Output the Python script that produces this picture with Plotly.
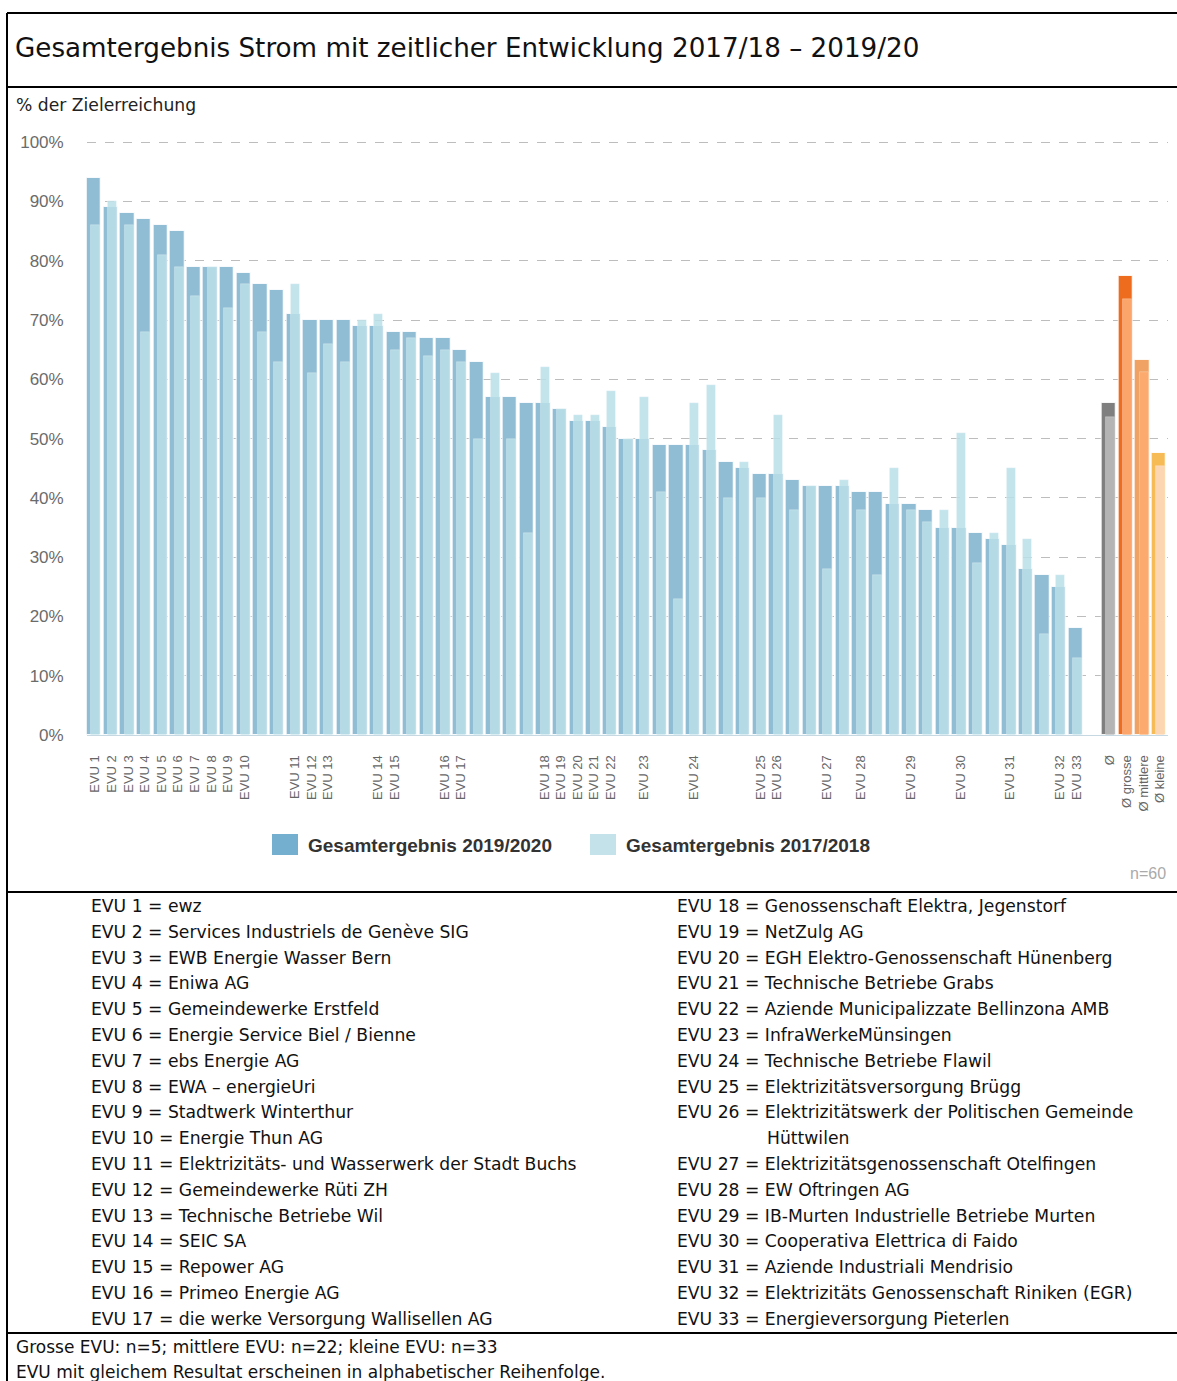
import plotly.graph_objects as go

W, H = 1177, 1381

# ---------------- data ----------------
res_2020 = [94, 89, 88, 87, 86, 85, 79, 79, 79, 78,
            76, 75, 71, 70, 70, 70, 69, 69, 68, 68,
            67, 67, 65, 63, 57, 57, 56, 56, 55, 53,
            53, 52, 50, 50, 49, 49, 49, 48, 46, 45,
            44, 44, 43, 42, 42, 42, 41, 41, 39, 39,
            38, 35, 35, 34, 33, 32, 28, 27, 25, 18]
res_2018 = [86, 90, 86, 68, 81, 79, 74, 79, 72, 76,
            68, 63, 76, 61, 66, 63, 70, 71, 65, 67,
            64, 65, 63, 50, 61, 50, 34, 62, 55, 54,
            54, 58, 50, 57, 41, 23, 56, 59, 40, 46,
            40, 54, 38, 42, 28, 43, 38, 27, 45, 38,
            36, 38, 51, 29, 34, 45, 33, 17, 27, 13]
# bar number (1-based) that carries each EVU label
labeled_bars = [1, 2, 3, 4, 5, 6, 7, 8, 9, 10, 13, 14, 15, 18, 19, 22, 23,
                28, 29, 30, 31, 32, 34, 37, 41, 42, 45, 47, 50, 53, 56, 59, 60]
evu_labels = ["EVU %d" % (i + 1) for i in range(33)]

avg_labels = ["Ø", "Ø grosse", "Ø mittlere", "Ø kleine"]
avg_2020 = [56, 77.4, 63.2, 47.6]
avg_2018 = [53.7, 73.5, 61.3, 45.4]

y_ticks = [0, 10, 20, 30, 40, 50, 60, 70, 80, 90, 100]
y_ticktext = ["%d%%" % v for v in y_ticks]

legend_names = ["Gesamtergebnis 2019/2020", "Gesamtergebnis 2017/2018"]

list_left = [
    "EVU 1 = ewz",
    "EVU 2 = Services Industriels de Genève SIG",
    "EVU 3 = EWB Energie Wasser Bern",
    "EVU 4 = Eniwa AG",
    "EVU 5 = Gemeindewerke Erstfeld",
    "EVU 6 = Energie Service Biel / Bienne",
    "EVU 7 = ebs Energie AG",
    "EVU 8 = EWA – energieUri",
    "EVU 9 = Stadtwerk Winterthur",
    "EVU 10 = Energie Thun AG",
    "EVU 11 = Elektrizitäts- und Wasserwerk der Stadt Buchs",
    "EVU 12 = Gemeindewerke Rüti ZH",
    "EVU 13 = Technische Betriebe Wil",
    "EVU 14 = SEIC SA",
    "EVU 15 = Repower AG",
    "EVU 16 = Primeo Energie AG",
    "EVU 17 = die werke Versorgung Wallisellen AG",
]
list_right = [
    "EVU 18 = Genossenschaft Elektra, Jegenstorf",
    "EVU 19 = NetZulg AG",
    "EVU 20 = EGH Elektro-Genossenschaft Hünenberg",
    "EVU 21 = Technische Betriebe Grabs",
    "EVU 22 = Aziende Municipalizzate Bellinzona AMB",
    "EVU 23 = InfraWerkeMünsingen",
    "EVU 24 = Technische Betriebe Flawil",
    "EVU 25 = Elektrizitätsversorgung Brügg",
    "EVU 26 = Elektrizitätswerk der Politischen Gemeinde",
    "Hüttwilen",
    "EVU 27 = Elektrizitätsgenossenschaft Otelfingen",
    "EVU 28 = EW Oftringen AG",
    "EVU 29 = IB-Murten Industrielle Betriebe Murten",
    "EVU 30 = Cooperativa Elettrica di Faido",
    "EVU 31 = Aziende Industriali Mendrisio",
    "EVU 32 = Elektrizitäts Genossenschaft Riniken (EGR)",
    "EVU 33 = Energieversorgung Pieterlen",
]
notes = ["Grosse EVU: n=5; mittlere EVU: n=22; kleine EVU: n=33",
         "EVU mit gleichem Resultat erscheinen in alphabetischer Reihenfolge."]

# ---------------- helpers ----------------
def px(x):
    return x / W

def py(y):
    return 1 - y / H

n = len(res_2020)
x_evu = list(range(n))
x_avg = [n + 1 + i for i in range(len(avg_labels))]
x_all = x_evu + x_avg

dark_col = "#90bdd4"
light_col = "rgba(186,223,232,0.86)"
avg_dark_cols = ["#7f7f7f", "#ee6c1e", "#efa263", "#f7bb55"]
avg_light_cols = ["#b4b4b4", "#fba56b", "#fcaa6d", "#fcd5b3"]

fig = go.Figure()
fig.add_trace(go.Bar(
    x=x_all, y=res_2020 + avg_2020, name=legend_names[0],
    width=0.86, offset=-0.5,
    marker=dict(color=[dark_col] * n + avg_dark_cols,
                line=dict(color="rgba(255,255,255,0.85)", width=1)),
    showlegend=False, hoverinfo="y"))
fig.add_trace(go.Bar(
    x=x_all, y=res_2018 + avg_2018, name=legend_names[1],
    width=0.54, offset=-0.24,
    marker=dict(color=[light_col] * n + avg_light_cols,
                line=dict(color="rgba(255,255,255,0.5)", width=0.5)),
    showlegend=False, hoverinfo="y"))

tickvals = [b - 1 for b in labeled_bars] + x_avg
ticktext = evu_labels + avg_labels

shapes = []
line_style = dict(color="black", width=2)
# frame
shapes.append(dict(type="line", xref="paper", yref="paper", x0=px(7), x1=px(7), y0=py(13), y1=py(1381), line=line_style))
for yy in [13, 87, 892, 1333]:
    shapes.append(dict(type="line", xref="paper", yref="paper", x0=px(7), x1=px(1177), y0=py(yy), y1=py(yy), line=line_style))
# legend swatches
shapes.append(dict(type="rect", xref="paper", yref="paper", x0=px(272), x1=px(298), y0=py(855), y1=py(834),
                   fillcolor="#74afcf", line=dict(width=0)))
shapes.append(dict(type="rect", xref="paper", yref="paper", x0=px(590), x1=px(616), y0=py(855), y1=py(834),
                   fillcolor="#c3e2ea", line=dict(width=0)))

ann = []
TF = "DejaVu Sans"
ann.append(dict(text="Gesamtergebnis Strom mit zeitlicher Entwicklung 2017/18 – 2019/20",
                x=px(13), y=py(48), xanchor="left", yanchor="middle",
                font=dict(family=TF, size=26.2, color="#111")))
ann.append(dict(text="% der Zielerreichung", x=px(14), y=py(105), xanchor="left", yanchor="middle",
                font=dict(family=TF, size=17.2, color="#222")))
ann.append(dict(text="<b>%s</b>" % legend_names[0], x=px(306), y=py(845), xanchor="left", yanchor="middle",
                font=dict(family="Liberation Sans, Arial", size=19, color="#333")))
ann.append(dict(text="<b>%s</b>" % legend_names[1], x=px(624), y=py(845), xanchor="left", yanchor="middle",
                font=dict(family="Liberation Sans, Arial", size=19, color="#333")))
ann.append(dict(text="n=60", x=px(1168), y=py(873), xanchor="right", yanchor="middle",
                font=dict(family="Liberation Sans, Arial", size=16, color="#aaaaaa")))

line_h = 25.8
for i, t in enumerate(list_left):
    ann.append(dict(text=t, x=px(89), y=py(906 + i * line_h), xanchor="left", yanchor="middle",
                    font=dict(family=TF, size=17.2, color="#111")))
for i, t in enumerate(list_right):
    xx = 765 if t == "Hüttwilen" else 675
    ann.append(dict(text=t, x=px(xx), y=py(906 + i * line_h), xanchor="left", yanchor="middle",
                    font=dict(family=TF, size=17.2, color="#111")))
for i, t in enumerate(notes):
    ann.append(dict(text=t, x=px(14), y=py(1347 + i * 24.5), xanchor="left", yanchor="middle",
                    font=dict(family=TF, size=17, color="#111")))

for a in ann:
    a.update(xref="paper", yref="paper", showarrow=False)

fig.update_layout(
    width=W, height=H,
    margin=dict(l=0, r=0, t=0, b=0, pad=0, autoexpand=False),
    paper_bgcolor="white", plot_bgcolor="white",
    barmode="overlay", bargap=0,
    shapes=shapes, annotations=ann,
    xaxis=dict(domain=[px(86.7), px(1168.3)], range=[-0.5, 64.5], automargin=False,
               tickmode="array", tickvals=tickvals, ticktext=ticktext, tickangle=-90,
               tickfont=dict(family="Liberation Sans, Arial", size=13, color="#666"),
               ticklabelstandoff=14, showgrid=False, zeroline=False,
               showline=True, linecolor="#c6d9e3", linewidth=1, ticks=""),
    yaxis=dict(domain=[1 - 735 / H, 1 - 141 / H], range=[0, 100.2], automargin=False,
               tickmode="array", tickvals=y_ticks, ticktext=y_ticktext,
               tickfont=dict(family="Liberation Sans, Arial", size=17, color="#6b6b6b"),
               ticklabelstandoff=22, showgrid=True, gridcolor="#bdbdbd", griddash="dash",
               gridwidth=1, zeroline=False, showline=False, ticks=""),
)

fig.write_html("out.html",
               config={"displayModeBar": False},
               post_script="document.documentElement.style.margin='0';"
                           "document.body.style.margin='0';"
                           "document.body.style.overflow='hidden';")
